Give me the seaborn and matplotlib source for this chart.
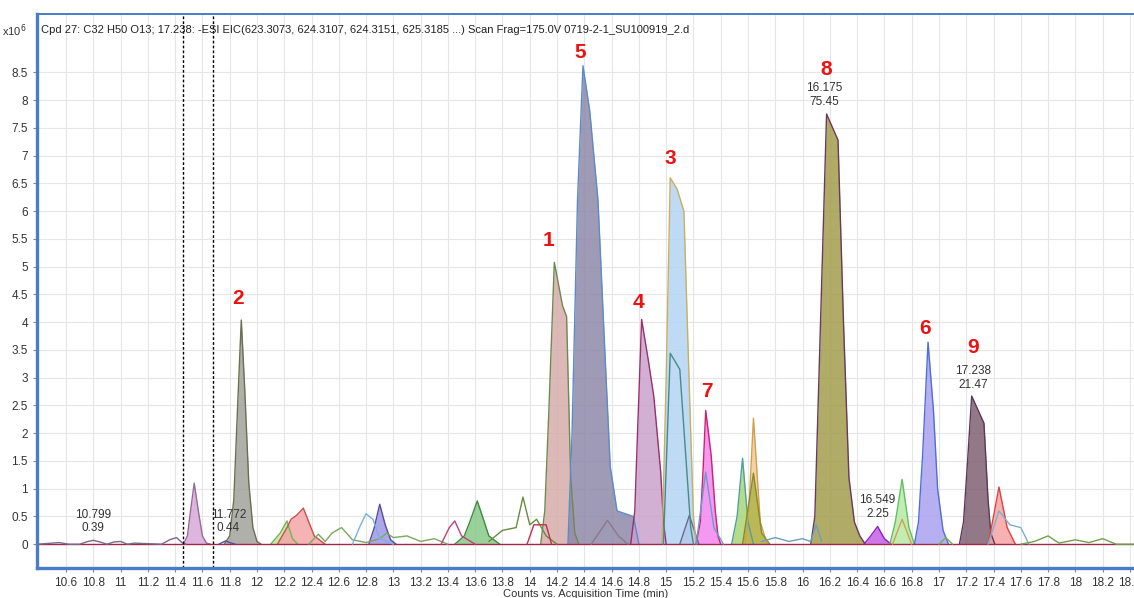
import matplotlib
matplotlib.use("Agg")
import matplotlib.pyplot as plt
import seaborn as sns

# --- data (time in min, counts x10^6) ---
baseline_t = [10.39, 18.43]
baseline_y = [0.0, 0.0]

noise_t = [10.39, 10.55, 10.62, 10.7, 10.76, 10.8, 10.85, 10.9, 10.95, 11.0, 11.05, 11.1, 11.3, 11.36, 11.41, 11.45, 11.48]
noise_y = [0.0, 0.03, 0.0, 0.0, 0.05, 0.07, 0.04, 0.0, 0.04, 0.05, 0.0, 0.02, 0.0, 0.08, 0.12, 0.03, 0.0]

p_1152_t = [11.46, 11.49, 11.51, 11.54, 11.57, 11.60, 11.63, 11.66]
p_1152_y = [0.0, 0.15, 0.55, 1.1, 0.6, 0.15, 0.02, 0.0]

p2_t = [11.76, 11.80, 11.83, 11.86, 11.885, 11.91, 11.94, 11.97, 12.00, 12.03]
p2_y = [0.0, 0.15, 0.8, 2.6, 4.04, 2.8, 1.1, 0.3, 0.05, 0.0]

p_1177_t = [11.72, 11.77, 11.80, 11.84]
p_1177_y = [0.0, 0.06, 0.03, 0.0]

p_1222_t = [12.10, 12.17, 12.22, 12.26, 12.30]
p_1222_y = [0.0, 0.2, 0.42, 0.1, 0.0]

p_1234_t = [12.15, 12.22, 12.25, 12.29, 12.34, 12.38, 12.42, 12.50]
p_1234_y = [0.0, 0.3, 0.45, 0.52, 0.65, 0.4, 0.15, 0.0]

wig_t = [12.38, 12.45, 12.5, 12.55, 12.62, 12.7, 12.8, 12.9, 12.95, 13.0, 13.1, 13.2, 13.3, 13.4]
wig_y = [0.0, 0.18, 0.05, 0.2, 0.3, 0.08, 0.03, 0.1, 0.2, 0.12, 0.15, 0.05, 0.1, 0.0]

p_1280_t = [12.70, 12.76, 12.80, 12.85, 12.90, 13.00]
p_1280_y = [0.0, 0.35, 0.55, 0.45, 0.1, 0.0]

p_1290_t = [12.82, 12.86, 12.90, 12.94, 12.98, 13.02]
p_1290_y = [0.0, 0.3, 0.72, 0.35, 0.08, 0.0]

p_1345_t = [13.35, 13.41, 13.45, 13.50, 13.60]
p_1345_y = [0.0, 0.3, 0.42, 0.15, 0.0]

p_1362_t = [13.45, 13.52, 13.56, 13.615, 13.66, 13.70, 13.78]
p_1362_y = [0.0, 0.15, 0.4, 0.78, 0.45, 0.15, 0.0]

p_1395_t = [13.70, 13.80, 13.90, 13.95, 14.00, 14.05, 14.12, 14.20]
p_1395_y = [0.05, 0.25, 0.3, 0.85, 0.35, 0.45, 0.15, 0.0]

red_bump_t = [13.98, 14.03, 14.12, 14.16]
red_bump_y = [0.0, 0.35, 0.35, 0.0]

p1_t = [14.08, 14.11, 14.14, 14.18, 14.24, 14.27, 14.30, 14.33, 14.36]
p1_y = [0.0, 0.6, 2.4, 5.08, 4.3, 4.1, 1.2, 0.2, 0.0]

p5_t = [14.28, 14.31, 14.35, 14.39, 14.44, 14.50, 14.55, 14.59, 14.64, 14.70, 14.76, 14.80]
p5_y = [0.0, 2.0, 6.2, 8.62, 7.8, 6.2, 3.5, 1.4, 0.6, 0.55, 0.5, 0.0]

p_1457_t = [14.45, 14.57, 14.65, 14.72]
p_1457_y = [0.0, 0.43, 0.15, 0.0]

p4_t = [14.74, 14.77, 14.79, 14.82, 14.87, 14.91, 14.96, 14.98, 15.00]
p4_y = [0.0, 0.6, 2.0, 4.05, 3.3, 2.65, 1.3, 0.4, 0.0]

p3_t = [14.97, 15.00, 15.03, 15.08, 15.13, 15.18, 15.20, 15.22]
p3_y = [0.0, 3.0, 6.6, 6.4, 6.0, 2.0, 0.5, 0.0]

p3b_t = [14.98, 15.03, 15.10, 15.18, 15.20]
p3b_y = [0.0, 3.44, 3.15, 0.3, 0.0]

p_1518_t = [15.10, 15.17, 15.24]
p_1518_y = [0.0, 0.52, 0.0]

p7_t = [15.22, 15.25, 15.27, 15.29, 15.33, 15.36, 15.38, 15.40]
p7_y = [0.0, 0.4, 1.3, 2.41, 1.6, 0.6, 0.15, 0.0]

p7b_t = [15.22, 15.29, 15.35, 15.42]
p7b_y = [0.0, 1.3, 0.3, 0.0]

p_1556_t = [15.48, 15.52, 15.56, 15.60, 15.64]
p_1556_y = [0.0, 0.5, 1.55, 0.4, 0.0]

p_1564_t = [15.58, 15.61, 15.64, 15.69, 15.74]
p_1564_y = [0.0, 0.8, 2.27, 0.4, 0.0]

p_1564b_t = [15.56, 15.64, 15.70, 15.76]
p_1564b_y = [0.0, 1.28, 0.2, 0.0]

mid_t = [15.70, 15.80, 15.90, 16.00, 16.06, 16.10, 16.14]
mid_y = [0.05, 0.12, 0.05, 0.1, 0.05, 0.35, 0.05]

p8_t = [16.06, 16.09, 16.12, 16.176, 16.26, 16.30, 16.34, 16.38, 16.42, 16.46]
p8_y = [0.0, 0.5, 3.0, 7.75, 7.28, 4.0, 1.2, 0.4, 0.15, 0.0]

p_1655_t = [16.45, 16.50, 16.55, 16.60, 16.65]
p_1655_y = [0.0, 0.15, 0.32, 0.1, 0.0]

p_1673_t = [16.64, 16.68, 16.73, 16.78, 16.82]
p_1673_y = [0.0, 0.4, 1.17, 0.3, 0.0]

p_1673b_t = [16.66, 16.73, 16.80]
p_1673b_y = [0.0, 0.45, 0.0]

p6_t = [16.82, 16.85, 16.88, 16.92, 16.96, 16.99, 17.03, 17.07]
p6_y = [0.0, 0.4, 1.6, 3.64, 2.4, 1.0, 0.25, 0.0]

p_1705_t = [17.0, 17.05, 17.1]
p_1705_y = [0.0, 0.12, 0.0]

p9_t = [17.15, 17.18, 17.21, 17.24, 17.33, 17.36, 17.38, 17.41]
p9_y = [0.0, 0.4, 1.5, 2.67, 2.18, 0.8, 0.2, 0.0]

p_1744_t = [17.36, 17.40, 17.44, 17.50, 17.56]
p_1744_y = [0.0, 0.5, 1.03, 0.3, 0.0]

p_1744b_t = [17.36, 17.44, 17.52, 17.60, 17.66]
p_1744b_y = [0.0, 0.6, 0.35, 0.3, 0.0]

tail_t = [17.60, 17.70, 17.80, 17.88, 18.00, 18.10, 18.20, 18.30, 18.43]
tail_y = [0.0, 0.05, 0.15, 0.02, 0.08, 0.03, 0.1, 0.0, 0.0]

# filled peaks: (t, y, fill colour, edge colour)
filled = [
    (p_1152_t, p_1152_y, "#d8aad8", "#9a6a9a"),
    (p2_t, p2_y, "#a2a29c", "#6a7050"),
    (p_1222_t, p_1222_y, "#bfe6a0", "#70b850"),
    (p_1234_t, p_1234_y, "#f4a6a6", "#c85050"),
    (p_1290_t, p_1290_y, "#9c98e6", "#5a4aa0"),
    (p_1362_t, p_1362_y, "#88c888", "#3c8c3c"),
    (p1_t, p1_y, "#d6adab", "#6e8a50"),
    (p5_t, p5_y, "#8e88a8", "#5a8cc8"),
    (p_1518_t, p_1518_y, "#9a92b0", "#6a6a90"),
    (p4_t, p4_y, "#caa2cc", "#9a3070"),
    (p3_t, p3_y, "#b4d4f4", "#c8b060"),
    (p7_t, p7_y, "#f486f0", "#d02070"),
    (p_1556_t, p_1556_y, "#a8d676", "#50a0a0"),
    (p_1564_t, p_1564_y, "#f2cc94", "#d0a050"),
    (p_1564b_t, p_1564b_y, "#b0b44a", "#8a8a30"),
    (p8_t, p8_y, "#a29c4c", "#6a3a5a"),
    (p_1655_t, p_1655_y, "#c460e6", "#9020c0"),
    (p_1673_t, p_1673_y, "#b6eaa6", "#60c060"),
    (p6_t, p6_y, "#aaa2f2", "#5070d0"),
    (p9_t, p9_y, "#806072", "#5a3a5a"),
    (p_1744_t, p_1744_y, "#f6a4a4", "#e04040"),
]

# line-only traces: (t, y, colour)
lines = [
    (baseline_t, baseline_y, "#a02848"),
    (noise_t, noise_y, "#7a6a8a"),
    (p_1177_t, p_1177_y, "#5a4aa0"),
    (wig_t, wig_y, "#7aa860"),
    (p_1280_t, p_1280_y, "#7ab0e0"),
    (p_1345_t, p_1345_y, "#c04080"),
    (p_1395_t, p_1395_y, "#6a8a40"),
    (red_bump_t, red_bump_y, "#c03050"),
    (p_1457_t, p_1457_y, "#8a7a8a"),
    (p3b_t, p3b_y, "#4a8a8a"),
    (p7b_t, p7b_y, "#6a9ad0"),
    (mid_t, mid_y, "#6aa0c0"),
    (p_1673b_t, p_1673b_y, "#d0a050"),
    (p_1705_t, p_1705_y, "#70b050"),
    (p_1744b_t, p_1744b_y, "#7ab0d0"),
    (tail_t, tail_y, "#70a050"),
]

peak_labels = ["5", "8", "3", "1", "2", "4", "7", "6", "9"]
peak_label_t = [14.37, 16.17, 15.03, 14.14, 11.86, 14.80, 15.30, 16.90, 17.25]
peak_label_y = [8.86, 8.56, 6.95, 5.48, 4.43, 4.36, 2.76, 3.89, 3.55]

info_text = ["16.175\n75.45", "17.238\n21.47", "16.549\n2.25", "10.799\n0.39", "11.772\n0.44"]
info_t = [16.16, 17.25, 16.55, 10.80, 11.79]
info_y = [8.09, 2.99, 0.67, 0.41, 0.41]

cursor_t = [11.458, 11.678]

xticks = [round(10.6 + 0.2 * i, 1) for i in range(40)]
yticks = [0.5 * i for i in range(18)]

title = ("Cpd 27: C32 H50 O13; 17.238: -ESI EIC(623.3073, 624.3107, 624.3151, "
         "625.3185 ...) Scan Frag=175.0V 0719-2-1_SU100919_2.d")

# --- plotting ---
sns.set_style("white")
plt.rcParams["font.family"] = ["Liberation Sans Narrow", "Liberation Sans", "DejaVu Sans"]

fig = plt.figure(figsize=(11.34, 5.98), dpi=100)
ax = fig.add_axes([0.0326, 0.050, 0.9674, 0.9264])

for t, y, fc, ec in filled:
    ax.fill_between(t, y, 0, color=fc, alpha=0.85, lw=0)
    sns.lineplot(x=t, y=y, color=ec, lw=1.0, ax=ax, sort=False, estimator=None)

for t, y, c in lines:
    sns.lineplot(x=t, y=y, color=c, lw=1.0, ax=ax, sort=False, estimator=None)

for xc in cursor_t:
    ax.axvline(xc, color="black", ls=(0, (2, 1.5)), lw=1.0)

for lab, t, y in zip(peak_labels, peak_label_t, peak_label_y):
    ax.text(t, y, lab, color="#ee1111", fontsize=15, fontweight="bold",
            ha="center", va="center", family=["Liberation Sans", "DejaVu Sans"])

for lab, t, y in zip(info_text, info_t, info_y):
    ax.text(t, y, lab, color="#333333", fontsize=8.5, ha="center", va="center",
            linespacing=1.2)

ax.text(0.004, 0.971, title, transform=ax.transAxes, fontsize=8, color="#222222",
        va="center", ha="left")
fig.text(0.002, 0.948, r"x10$^6$", fontsize=8, color="#333333", va="center")

ax.set_xlim(10.387, 18.43)
ax.set_ylim(-0.43, 9.55)
ax.set_xticks(xticks)
ax.set_xticklabels([f"{v:g}" for v in xticks])
ax.set_yticks(yticks)
ax.set_yticklabels([f"{v:g}" for v in yticks])
ax.tick_params(axis="both", labelsize=8.5, length=3, width=0.8, color="#888888",
               labelcolor="#333333", direction="out", bottom=True, left=True)
ax.grid(True, color="#e6e6e6", lw=0.8)
ax.set_axisbelow(True)
ax.set_xlabel("Counts vs. Acquisition Time (min)", fontsize=8, color="#333333", labelpad=0)
ax.set_ylabel("")

for side in ["left", "bottom"]:
    ax.spines[side].set_color("#4a7cc8")
    ax.spines[side].set_linewidth(2.4)
ax.spines["top"].set_color("#4a7cc8")
ax.spines["top"].set_linewidth(1.4)
ax.spines["right"].set_visible(False)

fig.savefig("out.png", dpi=100)
